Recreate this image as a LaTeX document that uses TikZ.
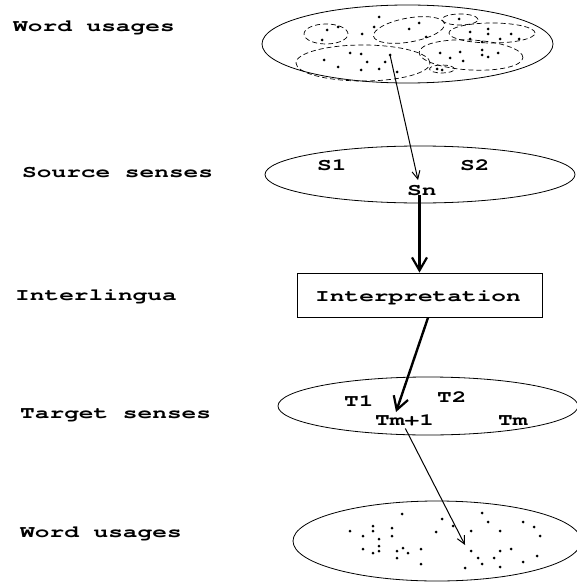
\documentclass[tikz,border=0pt]{standalone}
\usepackage{fontspec}
\newfontfamily\cour[FakeStretch=1.44]{texgyrecursor-bold.otf}
\usetikzlibrary{shapes.geometric,arrows.meta}

\begin{document}
\begin{tikzpicture}[x=1pt,y=-1pt,
  lbl/.style={font=\cour\fontsize{17}{17}\selectfont, inner sep=0pt, anchor=base west},
  inl/.style={font=\cour\fontsize{17}{17}\selectfont, inner sep=0pt, anchor=base west},
  pool/.style={ellipse, draw, line width=0.8pt, inner sep=0pt},
  cluster/.style={draw, line width=0.7pt, dash pattern=on 5pt off 3pt},
  thinarr/.style={line width=1pt, -{Straight Barb[length=8pt,width=8pt]}},
  thickarr/.style={line width=2.4pt, -{Straight Barb[length=13pt,width=15pt,line width=2.2pt]}},
  dot/.style={fill=black}
]
\useasboundingbox (0,0) rectangle (577,583);
\clip (0,0) rectangle (577,583);

% row labels
\node[lbl] (l1) at (13,32) {Word usages};
\node[lbl] (l2) at (22,177) {Source senses};
\node[lbl] (l3) at (15,300) {Interlingua};
\node[lbl] (l4) at (20,418) {Target senses};
\node[lbl] (l5) at (20,537) {Word usages};

% source word usages with sense clusters
\node[pool, minimum width=291pt, minimum height=78pt] (wu1) at (407.5,44) {};
\draw[cluster] (326,34) ellipse [x radius=22pt, y radius=10pt];
\draw[cluster, rotate around={10:(409,30)}] (409,30) ellipse [x radius=36pt, y radius=12pt];
\draw[cluster] (460,19.5) ellipse [x radius=18pt, y radius=5.5pt];
\draw[cluster] (492,33) ellipse [x radius=43pt, y radius=10pt];
\draw[cluster] (363,63) ellipse [x radius=67pt, y radius=18pt];
\draw[cluster, rotate around={-3:(471,55)}] (471,55) ellipse [x radius=52pt, y radius=15pt];
\draw[cluster] (442,69) ellipse [x radius=12.5pt, y radius=4pt];
\foreach \x/\y in {379/17,338/27,327/30,322/40,362/34,374/27,409/29,419/23,426/37,
  459/19,470/32,488/29,488/34,511/34,470/39,482/42,500/39,519/39,350/53,361/54,
  324/60,367/62,385/62,338/67,361/70,379/69,397/72,440/53,450/58,460/52,463/61,
  482/50,498/53,482/55,488/57,437/69,442/70}
  \fill[dot] (\x,\y) circle (1.5pt);
\coordinate (u1) at (390,55);
\fill[dot] (u1) circle (1.5pt);

% source senses
\node[pool, minimum width=310pt, minimum height=57pt] (ss) at (420,174.5) {};
\node[inl] (s1) at (317,170) {S1};
\node[inl] (s2) at (460,170) {S2};
\node[inl] (sn) at (407,195) {Sn};

% interlingua
\node[draw, line width=0.8pt, minimum width=245pt, minimum height=44pt, inner sep=0pt] (interp) at (419.5,295) {};
\node[inl] (it) at (315,301) {Interpretation};

% target senses
\node[pool, minimum width=300pt, minimum height=58pt] (ts) at (428,406) {};
\node[inl] (t1) at (344,406) {T1};
\node[inl] (t2) at (437,402) {T2};
\node[inl] (tmp) at (375,425) {Tm+1};
\node[inl] (tm) at (498,425) {Tm};

% target word usages
\node[pool, minimum width=288pt, minimum height=80pt] (wu2) at (437,541) {};
\foreach \x/\y in {402/514,442/519,482/513,488/522,523/522,534/527,540/536,350/531,
  373/526,373/531,392/528,363/536,379/539,392/536,436/532,453/526,471/531,500/531,
  379/546,403/548,363/549,373/553,379/551,397/551,408/553,421/549,397/558,421/564,
  465/568,471/551,478/558,482/564,494/558,500/551,511/549,500/567,523/562,537/556}
  \fill[dot] (\x,\y) circle (1.5pt);

% connectors
\coordinate (a1) at (418,180);
\coordinate (a2) at (396,412);
\coordinate (a3) at (465,545);
\draw[thinarr] (u1) -- (a1);
\draw[thickarr] (sn.south -| interp.north) -- (interp.north);
\draw[thickarr] (interp.-69) -- (a2);
\draw[thinarr, shorten <=3pt] (tmp.south -| 404,0) -- (a3);
\end{tikzpicture}
\end{document}
